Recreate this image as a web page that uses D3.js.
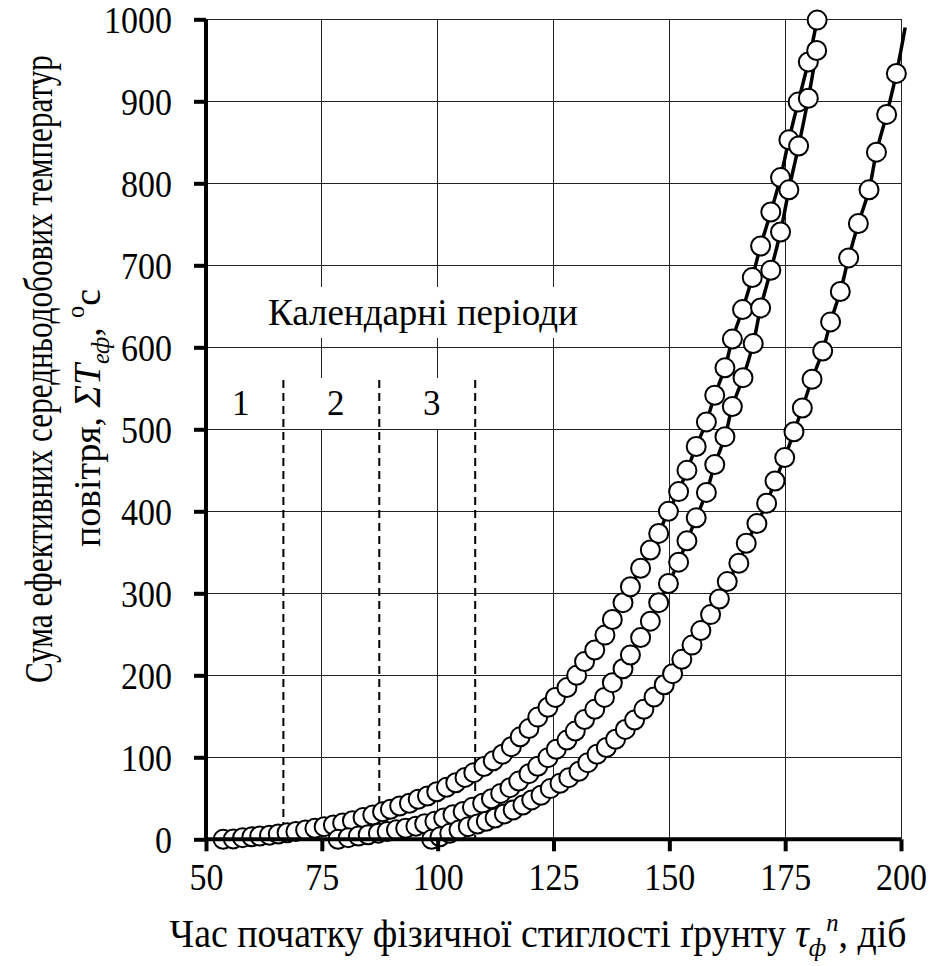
<!DOCTYPE html>
<html>
<head>
<meta charset="utf-8">
<script src="https://cdn.jsdelivr.net/npm/d3@7"></script>
</head>
<body style="margin:0;background:#fff">
<svg id="chart" width="946" height="966"></svg>
<script>
// Axis ticks
const xTicks = [50, 75, 100, 125, 150, 175, 200];
const yTicks = [0, 100, 200, 300, 400, 500, 600, 700, 800, 900, 1000];

// Sum of effective temperatures vs. day of physical soil ripeness, three series [day, sum]
const seriesA = [
  [53.7,0],[55.9,0.5],[57.9,2],[59.9,3],[61.6,4],[63.7,5],[65.6,6.5],[67.5,8],[69.4,9.5],[71.5,11.3],
  [73.5,13.4],[75.5,15.4],[77.5,17.4],[79.5,20],[81.6,22.6],[83.9,26.5],[86.0,29.6],[88.1,33.5],[89.8,36.6],[91.8,40.6],
  [93.9,44],[95.8,48.8],[97.8,52.8],[99.8,58],[101.9,63.4],[103.9,69],[105.9,75.5],[107.8,81.3],[110.0,88.7],[112.0,95.7],
  [114.0,103.8],[115.9,113],[117.8,125],[119.7,135],[121.6,149],[123.8,161],[125.4,173],[127.9,185],[130.0,200],[131.7,216.7],
  [133.9,230.8],[136.1,249],[137.7,268],[140.0,288.6],[141.6,308],[143.8,330.5],[145.9,352.8],[147.7,373],[149.8,400],[152.0,424],
  [153.8,450],[155.8,479],[158.0,509],[159.8,541.5],[162.0,575],[163.6,610],[165.8,646],[167.9,685],[169.7,723.5],[171.9,765],
  [174.0,807],[175.8,853],[177.8,899],[180.0,948],[181.9,999]
];
const seriesB = [
  [78.5,0],[80.7,2],[82.9,4],[85.0,5.5],[87.2,7.5],[89.1,9.5],[91.1,11.5],[93.1,13.5],[95.3,16],[97.2,19],
  [99.4,22],[101.3,26],[103.3,30],[105.5,34],[107.5,39],[109.7,44],[111.6,49.5],[113.6,56],[115.6,63],[117.5,71],
  [119.7,80],[121.6,89],[123.8,99.6],[125.6,109.8],[127.9,121],[129.7,132],[131.7,146],[133.9,158.5],[136.0,173],[137.7,191],
  [140.0,208],[141.6,224.8],[143.8,246],[145.9,266],[147.7,288.6],[149.8,312],[152.0,338],[153.8,364],[155.8,392],[158.0,423],
  [159.8,457],[162.0,491],[163.6,527.7],[165.9,563],[168.1,604.5],[169.7,648],[171.9,694],[174.0,740.6],[175.8,792],[177.9,845.5],
  [180.0,903.7],[181.8,962]
];
const seriesC = [
  [98.7,0],[100.5,3],[102.6,7.3],[104.6,11.4],[106.6,15.4],[108.6,18.7],[110.5,22],[112.4,26],[114.4,31],[116.3,35.7],
  [118.4,41.8],[120.3,48],[122.3,53.7],[124.3,61.8],[126.4,68.3],[128.3,75.2],[130.5,83],[132.4,93.5],[134.4,103.7],[136.4,112],
  [138.4,122],[140.5,134],[142.5,145.5],[144.5,158.5],[146.7,173.5],[148.9,188.5],[150.7,202],[152.7,219.5],[154.9,236.8],[156.8,254.5],
  [158.9,274],[160.8,293],[162.5,314.3],[165.0,336.6],[166.6,361],[168.9,385],[171.0,409.8],[172.8,437],[174.9,465.5],[176.9,497],
  [178.7,526],[180.8,561],[183.1,595.5],[184.8,631],[186.9,668],[188.7,709],[190.8,751],[193.1,792],[194.7,838],[196.9,884],
  [199.0,934]
];
// Fitted curve of series C runs a little past its last observation
const trendTailC = [[200.9, 990]];

// Calendar period boundaries (days) and their labels
const periodBounds = [66.7, 87.4, 108.1];
const periodTop = 560;
const periodLabels = [
  { text: "1", day: 57.5 },
  { text: "2", day: 78.0 },
  { text: "3", day: 98.7 }
];
const periodTitle = "Календарні періоди";

const FONT = "Times New Roman";

const svg = d3.select("#chart");
const x = d3.scaleLinear().domain([50, 200]).range([206, 901]);
const y = d3.scaleLinear().domain([0, 1000]).range([839.3, 19.3]);

// Grid
const grid = svg.append("g").attr("shape-rendering", "crispEdges");
grid.selectAll("line.h").data(yTicks.filter(d => d > 0)).join("line")
  .attr("x1", x(50)).attr("x2", x(200))
  .attr("y1", d => y(d)).attr("y2", d => y(d))
  .attr("stroke", "#222").attr("stroke-width", 1);
grid.selectAll("line.v").data(xTicks.filter(d => d > 50)).join("line")
  .attr("x1", d => x(d)).attr("x2", d => x(d))
  .attr("y1", y(0)).attr("y2", y(1000))
  .attr("stroke", "#222").attr("stroke-width", 1);

// White boxes behind the period annotations
const ann = svg.append("g");
const titleText = ann.append("text")
  .attr("x", 268).attr("y", 325)
  .attr("font-family", FONT).attr("font-size", 37)
  .text(periodTitle);
const tb = titleText.node().getBBox();
ann.insert("rect", "text")
  .attr("x", tb.x - 8).attr("y", 287).attr("width", tb.width + 16).attr("height", 51)
  .attr("fill", "#fff");
periodLabels.forEach(p => {
  ann.append("rect")
    .attr("x", x(p.day) - 22).attr("y", 378).attr("width", 44).attr("height", 51)
    .attr("fill", "#fff");
  ann.append("text")
    .attr("x", x(p.day)).attr("y", 415)
    .attr("text-anchor", "middle")
    .attr("font-family", FONT).attr("font-size", 35)
    .text(p.text);
});

// Dashed period boundaries
svg.append("g").selectAll("line").data(periodBounds).join("line")
  .attr("x1", d => x(d)).attr("x2", d => x(d))
  .attr("y1", y(periodTop)).attr("y2", y(0))
  .attr("stroke", "#000").attr("stroke-width", 2)
  .attr("stroke-dasharray", "8,5");

// Curves and markers
const line = d3.line().x(d => x(d[0])).y(d => y(d[1])).curve(d3.curveCatmullRom.alpha(0.5));
const series = [
  { pts: seriesA, path: seriesA },
  { pts: seriesB, path: seriesB },
  { pts: seriesC, path: seriesC.concat(trendTailC) }
];
series.forEach(s => {
  svg.append("path").datum(s.path)
    .attr("d", line).attr("fill", "none")
    .attr("stroke", "#000").attr("stroke-width", 3.5);
});
series.forEach(s => {
  svg.append("g").selectAll("circle").data(s.pts).join("circle")
    .attr("cx", d => x(d[0])).attr("cy", d => y(d[1])).attr("r", 9.5)
    .attr("fill", "#fff").attr("stroke", "#000").attr("stroke-width", 2);
});

// Axes
const xAxis = d3.axisBottom(x).tickValues(xTicks).tickFormat(d3.format("d")).tickSize(12).tickPadding(10);
const yAxis = d3.axisLeft(y).tickValues(yTicks).tickFormat(d3.format("d")).tickSize(12).tickPadding(22);
const gx = svg.append("g").attr("transform", `translate(0,${y(0)})`).call(xAxis);
const gy = svg.append("g").attr("transform", `translate(${x(50)},0)`).call(yAxis);
[gx, gy].forEach(g => {
  g.attr("font-family", FONT).attr("font-size", 34);
  g.select(".domain").attr("stroke-width", 4).attr("stroke", "#000");
  g.selectAll(".tick line").attr("stroke-width", 4).attr("stroke", "#000");
  g.selectAll(".tick text").attr("font-family", FONT).attr("font-size", 34).attr("fill", "#000")
    .attr("transform", "scale(1,1.1)");
});
gx.select(".domain").attr("d", `M${x(50)},0H${x(200)}`);
gy.select(".domain").attr("d", `M0,${y(0)}V${y(1000)}`);
gy.selectAll(".tick text").attr("dy", "0.34em");

// Helper: condense a text element horizontally to a target width around its anchor
function fitWidth(sel, cx, targetW) {
  const w = sel.node().getComputedTextLength();
  const k = targetW / w;
  sel.attr("transform", `translate(${cx},0) scale(${k},1) translate(${-cx},0)`);
}

// X axis title
const xt = svg.append("text").attr("x", 538).attr("y", 947)
  .attr("text-anchor", "middle")
  .attr("font-family", FONT).attr("font-size", 40);
xt.append("tspan").text("Час початку фізичної стиглості ґрунту ");
xt.append("tspan").attr("font-style", "italic").text("τ");
xt.append("tspan").attr("font-style", "italic").attr("font-size", 26).attr("dy", 9).text("ф");
xt.append("tspan").attr("font-style", "italic").attr("font-size", 26).attr("dy", -25).text("n");
xt.append("tspan").attr("dy", 16).text(", діб");
fitWidth(xt, 538, 737);

// Y axis title (two rotated lines)
const yt = svg.append("g").attr("transform", "rotate(-90)");
const y1 = yt.append("text").attr("x", -369).attr("y", 52)
  .attr("text-anchor", "middle")
  .attr("font-family", FONT).attr("font-size", 39)
  .text("Сума ефективних середньодобових температур");
fitWidth(y1, -369, 628);
const y2 = yt.append("text").attr("x", -418).attr("y", 100)
  .attr("text-anchor", "middle")
  .attr("font-family", FONT).attr("font-size", 39);
y2.append("tspan").text("повітря, ");
y2.append("tspan").attr("font-style", "italic").text("ΣT");
y2.append("tspan").attr("font-style", "italic").attr("font-size", 25).attr("dy", 9).text("еф");
y2.append("tspan").attr("dy", -9).text(", ");
y2.append("tspan").attr("font-size", 25).attr("dy", -16).text("o");
y2.append("tspan").attr("dy", 16).text("с");
fitWidth(y2, -418, 258);
</script>
</body>
</html>
